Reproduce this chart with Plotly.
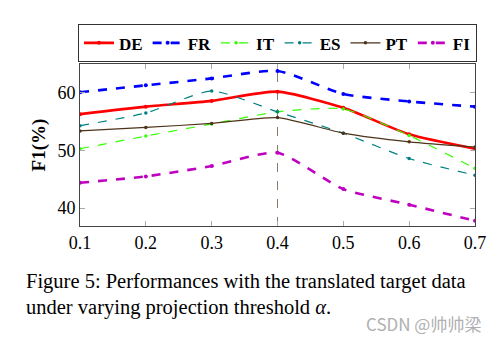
import plotly.graph_objects as go

thresholds = [0.1, 0.2, 0.3, 0.4, 0.5, 0.6, 0.7]
de = [56.3, 57.6, 58.6, 60.2, 57.4, 52.8, 50.3]
fr = [60.1, 61.3, 62.5, 63.8, 59.8, 58.5, 57.6]
it = [50.3, 52.5, 54.6, 56.7, 57.2, 52.6, 46.9]
es = [54.3, 56.5, 60.3, 56.7, 53.0, 48.6, 45.7]
pt = [53.4, 54.0, 54.7, 55.7, 53.0, 51.5, 50.6]
fi = [44.4, 45.5, 47.3, 49.6, 43.3, 40.6, 37.8]
x_ticks = [0.1, 0.2, 0.3, 0.4, 0.5, 0.6, 0.7]
y_ticks = [40, 50, 60]

series = [
    ("DE", de, "#ff0000", "solid", 2.6),
    ("FR", fr, "#0000ff", "dash", 2.6),
    ("IT", it, "#33ff00", "dash", 1.2),
    ("ES", es, "#008080", "dash", 1.2),
    ("PT", pt, "#4d3319", "solid", 1.2),
    ("FI", fi, "#bf00bf", "dash", 2.6),
]

serif = "Liberation Serif"
fig = go.Figure()
for name, vals, color, dash, w in series:
    fig.add_trace(go.Scatter(
        x=thresholds, y=vals, name="<b>" + name + "</b>", mode="lines+markers",
        line=dict(color=color, dash=dash, width=w, shape="spline", smoothing=0.6),
        marker=dict(color=color, size=4 if w > 2 else 3.5),
    ))

fig.add_shape(type="line", xref="x", yref="paper", x0=0.4, x1=0.4, y0=0, y1=1,
              line=dict(color="#8c7a6b", width=1, dash="dash"), layer="below")

fig.update_layout(
    width=498, height=340,
    margin=dict(l=80, r=23, t=64, b=114),
    paper_bgcolor="white", plot_bgcolor="white",
    font=dict(family=serif, size=17, color="black"),
    showlegend=True,
    legend=dict(orientation="h", x=0.5, xanchor="center", y=1.245, yanchor="top",
                bordercolor="#333333", borderwidth=1,
                font=dict(family=serif, size=17, color="black"),
                itemwidth=30, tracegroupgap=0),
    xaxis=dict(range=[0.1, 0.7], tickvals=x_ticks, ticktext=[str(v) for v in x_ticks],
               showgrid=False, zeroline=False, showline=True, linecolor="#444444",
               linewidth=1, mirror="ticks", ticks="inside", ticklen=5,
               tickcolor="#aaaaaa", tickfont=dict(family=serif, size=18)),
    yaxis=dict(range=[36.9, 65.0], tickvals=y_ticks, showgrid=False, zeroline=False,
               showline=True, linecolor="#444444", linewidth=1, mirror="ticks",
               ticks="inside", ticklen=5, tickcolor="#aaaaaa",
               tickfont=dict(family=serif, size=18),
               title=dict(text="<b>F1(%)</b>", font=dict(family=serif, size=19), standoff=6)),
)

fig.add_annotation(xref="paper", yref="paper", x=-0.142, y=-0.345, xanchor="left", yanchor="middle",
                   text="Figure 5: Performances with the translated target data",
                   showarrow=False, font=dict(family=serif, size=20.5, color="black"))
fig.add_annotation(xref="paper", yref="paper", x=-0.142, y=-0.5, xanchor="left", yanchor="middle",
                   text="under varying projection threshold <i>α</i>.",
                   showarrow=False, font=dict(family=serif, size=20.5, color="black"))
fig.add_annotation(xref="paper", yref="paper", x=1.02, y=-0.6, xanchor="right", yanchor="middle",
                   text="CSDN @帅帅梁", showarrow=False,
                   font=dict(family="Noto Sans CJK SC", size=17, color="#b0b0b0"))

fig.write_html("out.html")
